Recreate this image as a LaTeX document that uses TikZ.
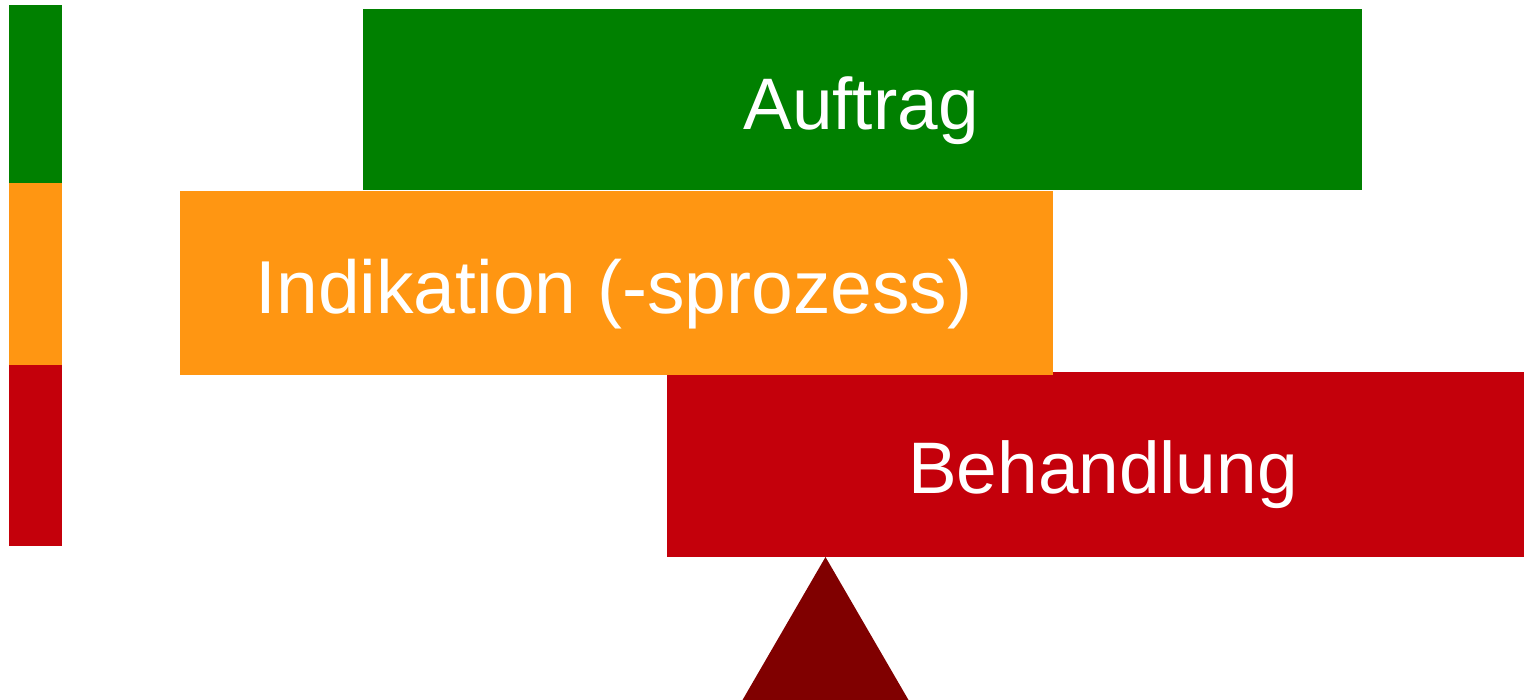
\documentclass[tikz,border=0pt]{standalone}
\usepackage{fontspec}
\setmainfont{Liberation Sans}
\definecolor{cgreen}{RGB}{0,128,0}
\definecolor{corange}{RGB}{255,150,18}
\definecolor{cred}{RGB}{196,0,11}
\definecolor{cdark}{RGB}{128,0,0}
\begin{document}
\begin{tikzpicture}[x=1pt,y=-1pt,
  lbl/.style={text=white,anchor=base,inner sep=0pt,font=\fontsize{73}{80}\selectfont}]
\useasboundingbox (0,0) rectangle (1524,700);
% side bar
\fill[cgreen] (9,5) rectangle (62,183.5);
\fill[corange] (9,183.5) rectangle (62,365);
\fill[cred] (9,365) rectangle (62,546);
% bars
\fill[cgreen] (363,9.5) rectangle (1362,190.5);
\fill[cred] (667,372) rectangle (1524,556.5);
\fill[corange] (179.5,191) rectangle (1052.5,375);
% triangle
\fill[cdark] (825.5,557) -- (908.5,700) -- (742.5,700) -- cycle;
% labels
\node[lbl] (auftrag) at (861,129.3) {Auftrag};
\node[lbl,font=\fontsize{75}{82}\selectfont] (indikation) at (614,313.3) {Indikation (-sprozess)};
\node[lbl] (behandlung) at (1103,493.3) {Behandlung};
\end{tikzpicture}
\end{document}
